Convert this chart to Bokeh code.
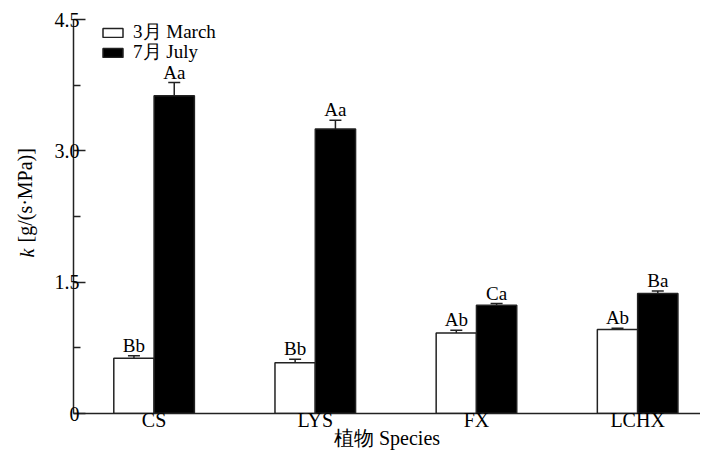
import math
from bokeh.plotting import figure
from bokeh.models import (Range1d, FixedTicker, ColumnDataSource, Whisker, TeeHead,
                          Legend, LegendItem, Label)
from bokeh.transform import dodge
from bokeh.core.properties import value
from bokeh.embed import file_html
from bokeh.resources import INLINE

# ---- data ----
species = ["CS", "LYS", "FX", "LCHX"]
march = [0.63, 0.58, 0.92, 0.96]
march_err = [0.03, 0.04, 0.03, 0.015]
july = [3.63, 3.25, 1.235, 1.37]
july_err = [0.15, 0.10, 0.02, 0.03]
march_letters = ["Bb", "Bb", "Ab", "Ab"]
july_letters = ["Aa", "Aa", "Ca", "Ba"]
series_names = ["3月 March", "7月 July"]
ytick_values = [0, 1.5, 3.0, 4.5]
ytick_labels = ["0", "1.5", "3.0", "4.5"]
yminor_values = [0.75, 2.25, 3.75]
x_title = "植物 Species"
y_title_var = "k"
y_title_unit = "[g/(s·MPa)]"

FONT = "Liberation Serif"
FS = "19px"
FS_AX = "20px"
INK = "#222222"

pos = list(range(len(species)))
src = ColumnDataSource(dict(
    pos=pos,
    march=march,
    march_lo=[v - e for v, e in zip(march, march_err)],
    march_hi=[v + e for v, e in zip(march, march_err)],
    july=july,
    july_lo=[v - e for v, e in zip(july, july_err)],
    july_hi=[v + e for v, e in zip(july, july_err)],
    march_lab=march_letters,
    july_lab=july_letters,
))

p = figure(width=700, height=453, output_backend="svg", toolbar_location=None,
           x_range=Range1d(-0.5, 3.39), y_range=Range1d(0, 4.5),
           min_border_left=73, min_border_right=0, min_border_top=19,
           min_border_bottom=40)
p.outline_line_color = None
p.grid.visible = False
p.background_fill_color = "white"

bw = 0.25
r_mar = p.vbar(x=dodge("pos", -bw / 2, range=p.x_range), top="march", width=bw,
               source=src, fill_color="white", line_color=INK, line_width=1.5)
r_jul = p.vbar(x=dodge("pos", bw / 2, range=p.x_range), top="july", width=bw,
               source=src, fill_color="black", line_color=INK, line_width=1.5)

for base_off, lo, hi in [(-bw / 2, "march_lo", "march_hi"), (bw / 2, "july_lo", "july_hi")]:
    w = Whisker(base=dodge("pos", base_off, range=p.x_range), lower=lo, upper=hi,
                source=src, line_color=INK, line_width=1.5,
                upper_head=TeeHead(size=12, line_color=INK, line_width=1.5),
                lower_head=TeeHead(size=12, line_color=INK, line_width=1.5))
    p.add_layout(w)

for off, ycol, tcol in [(-bw / 2, "march_hi", "march_lab"), (bw / 2, "july_hi", "july_lab")]:
    p.text(x=dodge("pos", off, range=p.x_range), y=ycol, text=tcol, source=src,
           text_align="center", text_baseline="bottom", y_offset=0,
           text_font=value(FONT), text_font_size=FS, text_color="black")

# axes
yax = p.yaxis[0]
yax.ticker = FixedTicker(ticks=ytick_values, minor_ticks=yminor_values)
yax.major_label_overrides = {v: s for v, s in zip(ytick_values, ytick_labels)}
yax.major_tick_in = 12
yax.major_tick_out = 0
yax.minor_tick_in = 7
yax.minor_tick_out = 0
yax.major_label_standoff = -6
yax.axis_label = None

xax = p.xaxis[0]
xax.ticker = FixedTicker(ticks=pos)
xax.major_label_overrides = {i: s for i, s in zip(pos, species)}
xax.major_tick_in = 0
xax.major_tick_out = 0
xax.minor_tick_in = 0
xax.minor_tick_out = 0
xax.major_label_standoff = -5
xax.axis_label = x_title
xax.axis_label_standoff = -7

for ax in (xax, yax):
    ax.axis_line_color = INK
    ax.axis_line_width = 1.5
    ax.major_tick_line_width = 1.5
    ax.minor_tick_line_width = 1.5
    ax.major_label_text_font = FONT
    ax.major_label_text_font_size = FS_AX
    ax.major_label_text_color = "black"
    ax.axis_label_text_font = FONT
    ax.axis_label_text_font_size = FS_AX
    ax.axis_label_text_font_style = "normal"
    ax.axis_label_text_color = "black"
yax.major_tick_line_color = INK
yax.minor_tick_line_color = INK
xax.major_tick_line_color = None
xax.minor_tick_line_color = None

# y-axis title: italic k + unit, placed in the left side panel
p.add_layout(Label(x=-3, y=156, x_units="screen", y_units="screen",
                   text=y_title_var, angle=math.pi / 2,
                   text_align="left", text_baseline="middle",
                   text_font=FONT, text_font_size="20px", text_font_style="italic",
                   text_color="black"), "left")
p.add_layout(Label(x=17, y=171, x_units="screen", y_units="screen",
                   text=y_title_unit, angle=math.pi / 2,
                   text_align="left", text_baseline="middle",
                   text_font=FONT, text_font_size="20px", text_color="black"), "left")

# legend: one row per Legend so the row spacing matches the reference
leg_kw = dict(padding=0, margin=0, spacing=0,
              glyph_width=25, glyph_height=11, label_height=20,
              label_standoff=8, background_fill_alpha=0,
              border_line_color=None,
              label_text_font=FONT, label_text_font_size=FS,
              label_text_color="black")
leg1 = Legend(items=[LegendItem(label=series_names[0], renderers=[r_mar])],
              location=(27, 368), **leg_kw)
leg2 = Legend(items=[LegendItem(label=series_names[1], renderers=[r_jul])],
              location=(27, 348), **leg_kw)
p.add_layout(leg1)
p.add_layout(leg2)

open("out.html", "w").write(file_html(p, INLINE))
